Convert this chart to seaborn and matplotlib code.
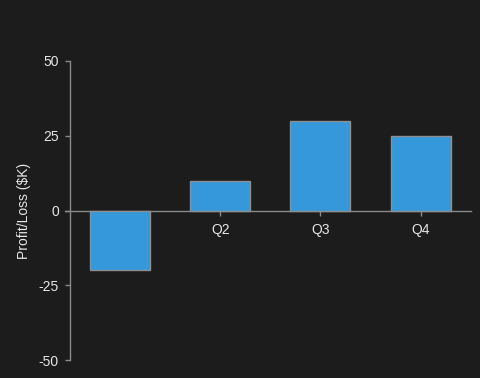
import matplotlib
matplotlib.use("Agg")
import matplotlib.pyplot as plt
import seaborn as sns
import pandas as pd

quarters = ["Q1", "Q2", "Q3", "Q4"]
profit = [-20, 10, 30, 25]
y_ticks = [-50, -25, 0, 25, 50]

bg = "#1c1c1c"
fg = "#e6e6e6"
spine_c = "#8a8a8a"

sns.set_theme(style="dark")
plt.rcParams["font.family"] = ["Liberation Sans", "DejaVu Sans"]

fig = plt.figure(figsize=(4.81, 3.78), dpi=100, facecolor=bg)
ax = fig.add_axes([65/481, 18/378, 405.7/481, 299/378])
ax.set_facecolor(bg)

df = pd.DataFrame({"quarter": quarters, "profit": profit})
sns.barplot(data=df, x="quarter", y="profit", color="#3498db", saturation=1,
            width=0.6, edgecolor="#8f8f8f", linewidth=1, ax=ax, zorder=3)

ax.set_xlim(-0.55, 3.5)
ax.set_ylim(-50, 50)
ax.set_yticks(y_ticks)
ax.set_yticklabels([str(v) for v in y_ticks])
ax.set_xlabel("")
ax.set_ylabel("Profit/Loss ($K)", color=fg, fontsize=10)
ax.grid(False)
ax.set_axisbelow(True)

for s in ["top", "right"]:
    ax.spines[s].set_visible(False)
ax.spines["left"].set_position(("data", -0.5))
ax.spines["bottom"].set_position(("data", 0))
for s in ["left", "bottom"]:
    ax.spines[s].set_color(spine_c)
    ax.spines[s].set_linewidth(1)

ax.tick_params(axis="both", colors=spine_c, labelcolor=fg, labelsize=10,
               length=3.5, width=1, direction="out", left=True, bottom=True)
ax.tick_params(axis="x", pad=5.5)
ax.tick_params(axis="y", pad=4.5)
ax.yaxis.set_label_coords(-0.083, 0.5)

fig.savefig("out.png", dpi=100, facecolor=bg)
